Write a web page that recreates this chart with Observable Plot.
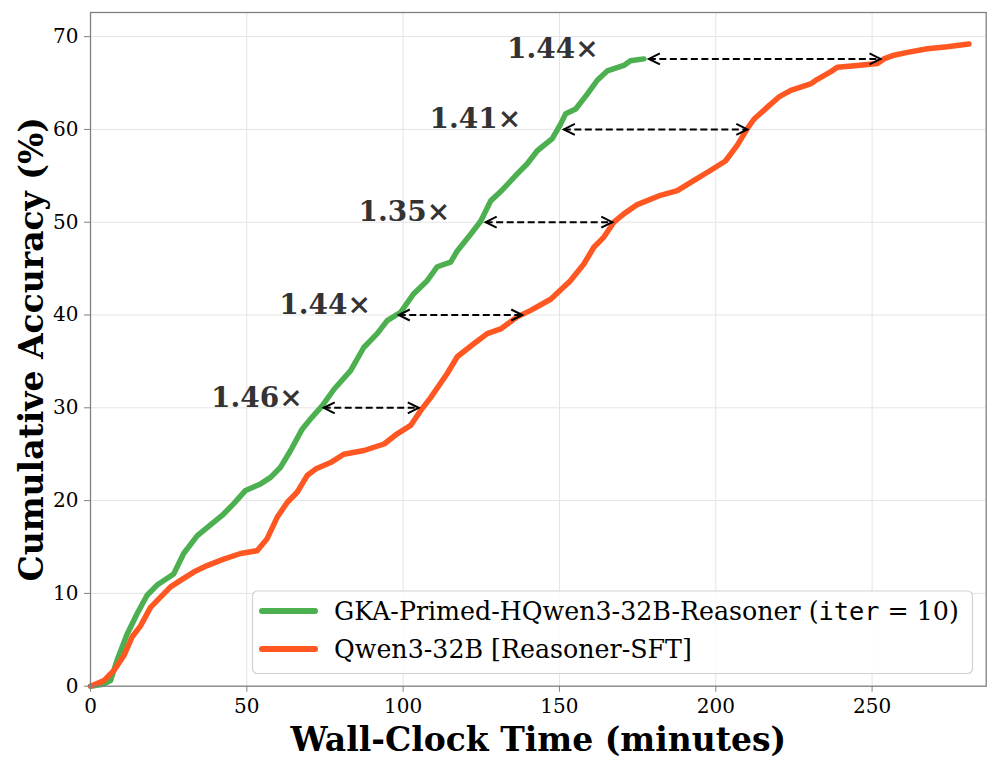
<!DOCTYPE html>
<html>
<head>
<meta charset="utf-8">
<script src="https://cdn.jsdelivr.net/npm/d3@7"></script>
<script src="https://cdn.jsdelivr.net/npm/@observablehq/plot@0.6"></script>
<style>
  body { margin: 0; background: #fff; }
  #wrap { width: 997px; height: 769px; }
</style>
</head>
<body>
<div id="wrap"></div>
<script>
// ---- data ----
const seriesNames = ["GKA-Primed-HQwen3-32B-Reasoner", "Qwen3-32B [Reasoner-SFT]"];
const seriesColors = ["#4CAF50", "#FF5722"];

const greenTime = [0, 4, 6.4, 8.5, 11.7, 14.9, 18.1, 21.3, 26.6, 29.8, 34.1, 37.3, 42.1, 45.9, 49.6, 54.4, 57.6, 60.8, 64, 67.7, 70.9, 74.1, 77.9, 83.2, 87.4, 91.7, 94.9, 99.2, 103.4, 107.7, 110.9, 115.2, 117.3, 121.6, 124.8, 128, 131.2, 136.5, 139.7, 142.9, 147.7, 150.4, 152, 155.2, 158.9, 162.1, 165.3, 170.6, 172.7, 177];
const greenAcc  = [0, 0.2, 0.6, 2.8, 5.6, 7.8, 9.8, 10.9, 12.1, 14.3, 16.2, 17.1, 18.4, 19.7, 21.1, 21.8, 22.5, 23.6, 25.4, 27.7, 29, 30.2, 32.0, 34.0, 36.5, 38.0, 39.4, 40.3, 42.3, 43.7, 45.2, 45.7, 46.9, 48.7, 50.1, 52.3, 53.3, 55.2, 56.3, 57.7, 59.0, 60.6, 61.7, 62.2, 63.8, 65.3, 66.3, 66.9, 67.4, 67.6];

const orangeTime = [0, 4.3, 7.5, 10.7, 13.3, 16, 19.2, 22.4, 25.6, 28.8, 33, 37.3, 42.6, 48, 53.3, 56.5, 59.7, 62.9, 66.1, 69.3, 72, 76.8, 81, 87.5, 93.9, 98.1, 102.4, 105.6, 108.8, 114.1, 117.3, 122.6, 126.9, 131.2, 136.5, 140.8, 147.2, 153.5, 157.8, 161, 164.2, 167.4, 170.6, 174.9, 182.3, 187.7, 192, 198.4, 203.1, 206.9, 210.1, 212.2, 216.5, 220.2, 224, 230.3, 232.5, 236.7, 238.9, 245.3, 251.7, 253.8, 257, 261.3, 267.7, 274, 281];
const orangeAcc  = [0, 0.6, 1.7, 3.3, 5.3, 6.5, 8.5, 9.6, 10.7, 11.4, 12.3, 13.0, 13.7, 14.3, 14.6, 15.9, 18.2, 19.8, 20.9, 22.7, 23.4, 24.1, 25.0, 25.4, 26.1, 27.2, 28.1, 29.7, 31.1, 33.7, 35.5, 36.9, 38.0, 38.5, 39.8, 40.5, 41.7, 43.7, 45.5, 47.3, 48.4, 50.0, 50.9, 51.9, 52.9, 53.4, 54.3, 55.6, 56.6, 58.3, 60.1, 61.1, 62.4, 63.5, 64.2, 64.9, 65.4, 66.2, 66.7, 66.9, 67.1, 67.6, 68.0, 68.3, 68.7, 68.9, 69.2];

const arrowLevel = [30, 40, 50, 60, 67.6];
const arrowFrom  = [74.6, 98.6, 126.4, 151.4, 178.6];
const arrowTo    = [105, 138.1, 166.9, 210.1, 252.7];
const speedupLabels = ["1.46×", "1.44×", "1.35×", "1.41×", "1.44×"];

const xTicks = [0, 50, 100, 150, 200, 250];
const yTicks = [0, 10, 20, 30, 40, 50, 60, 70];
const xDomain = [0, 286.5];
const yDomain = [0, 72.6];

// ---- build tables ----
const green = greenTime.map((t, i) => ({t, acc: greenAcc[i]}));
const orange = orangeTime.map((t, i) => ({t, acc: orangeAcc[i]}));
const arrows = arrowLevel.map((y, i) => ({y, x1: arrowFrom[i], x2: arrowTo[i], label: speedupLabels[i]}));

const chevron = {
  draw(ctx, size) {
    const r = Math.sqrt(size / Math.PI);
    ctx.moveTo(r, -r * 0.5);
    ctx.lineTo(0, 0);
    ctx.lineTo(r, r * 0.5);
  }
};

const font = "DejaVu Serif";

const chart = Plot.plot({
  width: 997,
  height: 769,
  marginLeft: 90,
  marginRight: 11.3,
  marginTop: 12,
  marginBottom: 83.3,
  style: {fontFamily: font, background: "white", overflow: "visible"},
  x: {domain: xDomain},
  y: {domain: yDomain},
  marks: [
    Plot.gridX(xTicks, {stroke: "#e4e4e4", strokeOpacity: 1, strokeWidth: 1}),
    Plot.gridY(yTicks, {stroke: "#e4e4e4", strokeOpacity: 1, strokeWidth: 1}),
    Plot.line(green, {x: "t", y: "acc", stroke: seriesColors[0], strokeWidth: 5.5, strokeLinejoin: "round", strokeLinecap: "round"}),
    Plot.line(orange, {x: "t", y: "acc", stroke: seriesColors[1], strokeWidth: 5.5, strokeLinejoin: "round", strokeLinecap: "round"}),
    Plot.link(arrows, {x1: "x1", x2: "x2", y1: "y", y2: "y", stroke: "black", strokeWidth: 2, strokeDasharray: "7,3.5"}),
    Plot.dot(arrows, {x: "x1", y: "y", symbol: chevron, r: 11, fill: "none", stroke: "black", strokeWidth: 2}),
    Plot.dot(arrows, {x: "x2", y: "y", symbol: chevron, r: 11, rotate: 180, fill: "none", stroke: "black", strokeWidth: 2}),
    Plot.text(arrows, {x: d => d.x1 * 0.91, y: "y", text: "label", textAnchor: "end", lineAnchor: "middle", dy: -10, fontSize: 28, fontWeight: "bold", fill: "#333"}),
    Plot.frame({stroke: "#808080", strokeWidth: 1.3}),
    Plot.axisX(xTicks, {tickSize: 6, tickPadding: 7, fontSize: 20, stroke: "#808080", fill: "black", label: null}),
    Plot.axisY(yTicks, {tickSize: 6, tickPadding: 6, fontSize: 20, stroke: "#808080", fill: "black", label: null}),
    Plot.text(["Wall-Clock Time (minutes)"], {frameAnchor: "bottom", dy: 54, lineAnchor: "middle", fontSize: 33, fontWeight: "bold", fill: "black"}),
    Plot.text(["Cumulative Accuracy (%)"], {frameAnchor: "left", textAnchor: "middle", dx: -58, rotate: -90, lineAnchor: "middle", fontSize: 33, fontWeight: "bold", fill: "black"})
  ]
});

document.getElementById("wrap").appendChild(chart);

// ---- legend (inside the plot area, lower right) ----
const svg = d3.select(chart);
const lg = svg.append("g").attr("font-family", font).attr("text-anchor", "start");
lg.append("rect")
  .attr("x", 252.5).attr("y", 591).attr("width", 720).attr("height", 82.5)
  .attr("rx", 5).attr("fill", "white").attr("fill-opacity", 0.85)
  .attr("stroke", "#d2d2d2").attr("stroke-width", 1.2);
const rowY = [611, 649];
seriesNames.forEach((name, i) => {
  lg.append("line")
    .attr("x1", 262).attr("x2", 315).attr("y1", rowY[i]).attr("y2", rowY[i])
    .attr("stroke", seriesColors[i]).attr("stroke-width", 6).attr("stroke-linecap", "round");
  const t = lg.append("text").attr("x", 334).attr("y", rowY[i] + 8.5)
    .attr("font-size", 25.3).attr("fill", "black");
  t.append("tspan").text(name);
  if (i === 0) {
    t.append("tspan").text(" (");
    t.append("tspan").attr("font-family", "DejaVu Sans Mono").text("iter");
    t.append("tspan").text(" = 10)");
  }
});
</script>
</body>
</html>
